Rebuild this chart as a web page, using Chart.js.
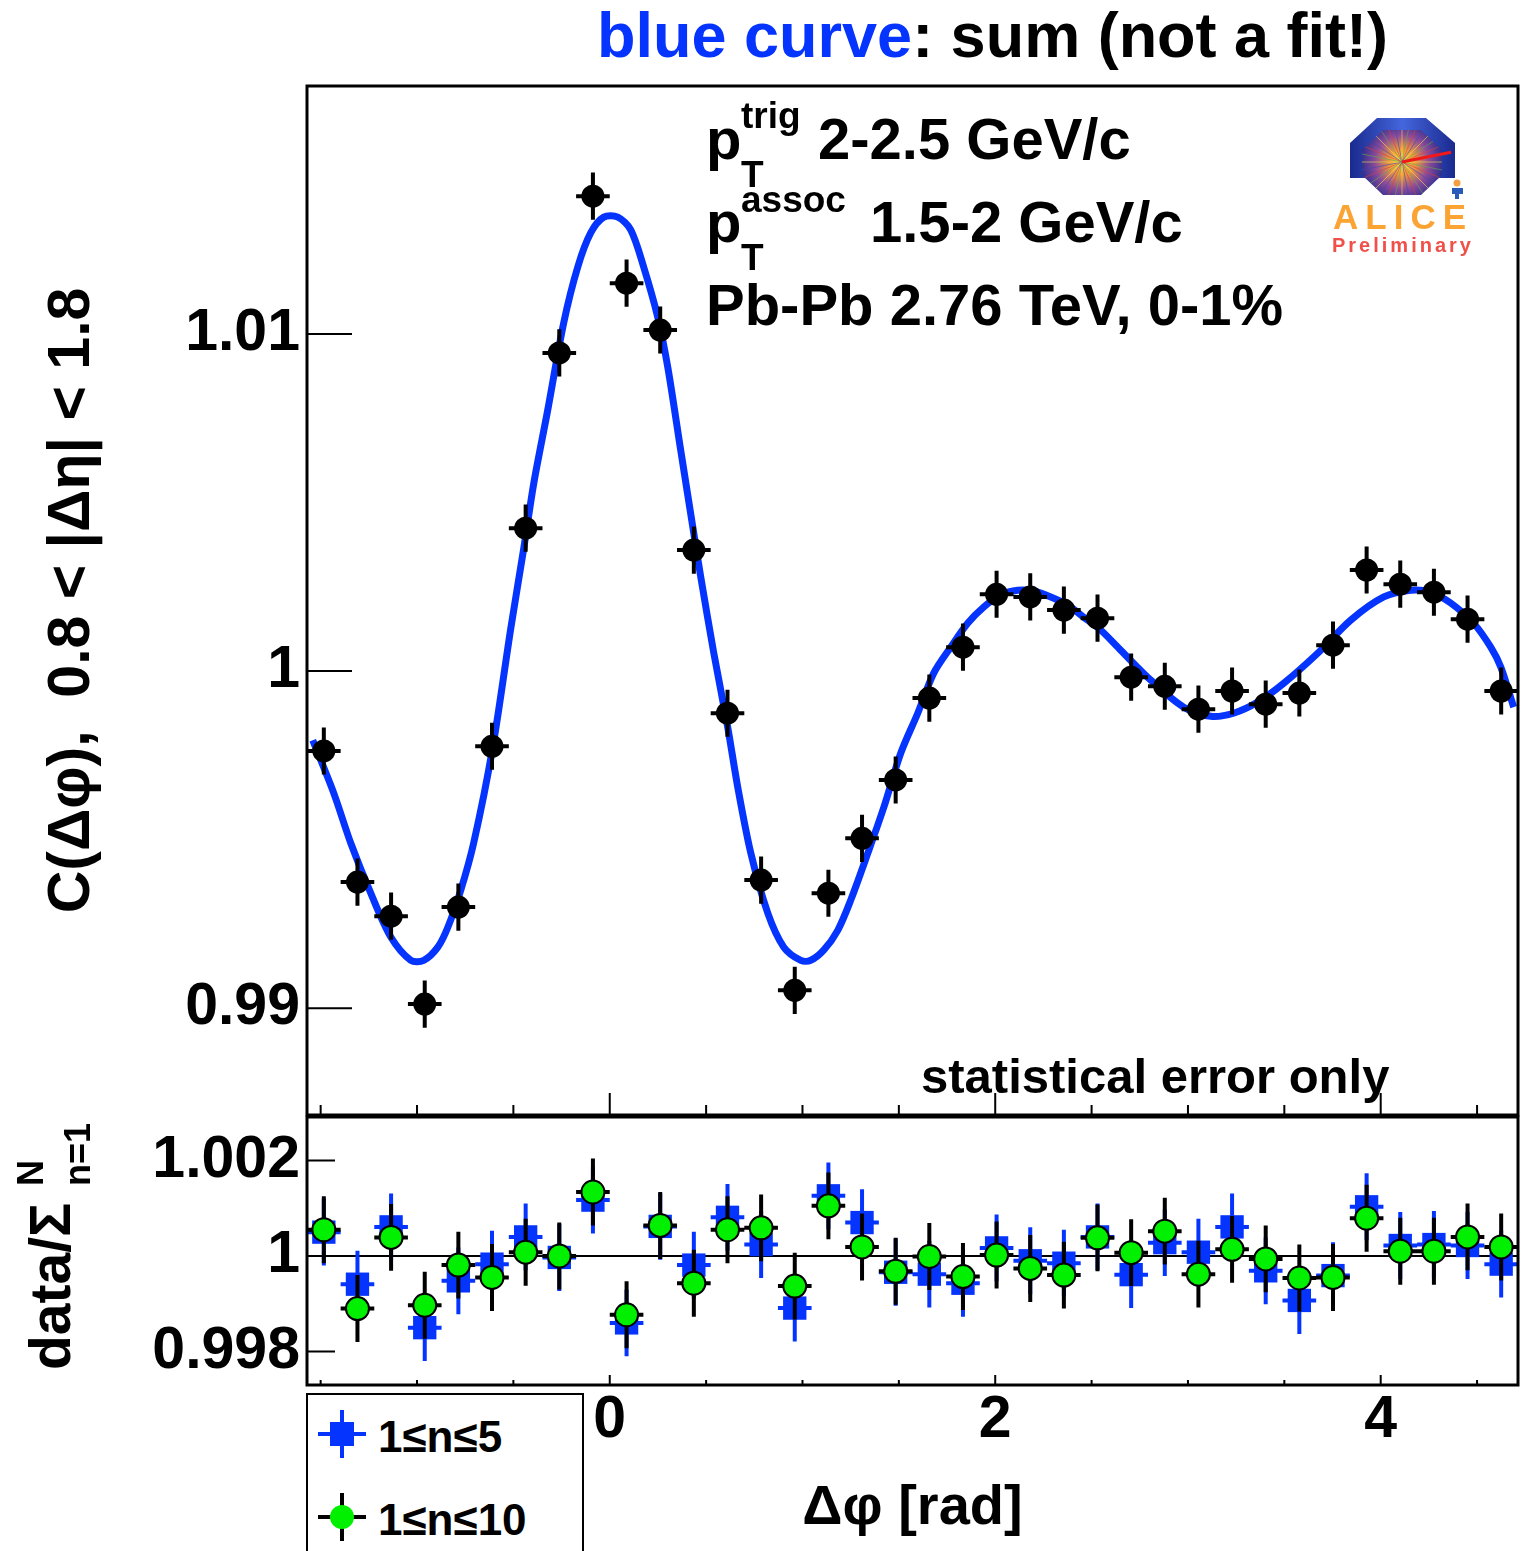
<!DOCTYPE html>
<html>
<head>
<meta charset="utf-8">
<title>C(dphi) Pb-Pb 2.76 TeV</title>
<script src="https://cdn.jsdelivr.net/npm/chart.js@4.4.1/dist/chart.umd.min.js"></script>
<style>
  html, body { margin: 0; padding: 0; background: #fff; }
  body { width: 1521px; height: 1551px; position: relative; overflow: hidden; }
  canvas { position: absolute; left: 0; }
  #topChart { top: 0; }
  #botChart { top: 1100px; }
  .txt { position: absolute; font-family: "Liberation Sans", Arial, sans-serif; font-weight: bold;
         line-height: 1; white-space: nowrap; color: #000; }
</style>
</head>
<body>
<canvas id="topChart" width="1521" height="1118"></canvas>
<canvas id="botChart" width="1521" height="451"></canvas>

<script>
/* === DATA === */
// bin centres in delta phi (36 bins, -pi/2 .. 3pi/2)
const binPhi = [-1.4835, -1.3090, -1.1345, -0.9599, -0.7854, -0.6109, -0.4363, -0.2618, -0.0873,
  0.0873, 0.2618, 0.4363, 0.6109, 0.7854, 0.9599, 1.1345, 1.3090, 1.4835,
  1.6581, 1.8326, 2.0071, 2.1817, 2.3562, 2.5307, 2.7053, 2.8798, 3.0543,
  3.2289, 3.4034, 3.5779, 3.7525, 3.9270, 4.1015, 4.2761, 4.4506, 4.6251];

// C(dphi) data points (black)
const corrVal = [0.99763, 0.99374, 0.99273, 0.99012, 0.99300, 0.99777, 1.00424, 1.00944, 1.01409,
  1.01151, 1.01012, 1.00359, 0.99875, 0.99380, 0.99053, 0.99341, 0.99504, 0.99677,
  0.99920, 1.00071, 1.00228, 1.00220, 1.00181, 1.00157, 0.99982, 0.99955, 0.99887,
  0.99941, 0.99902, 0.99935, 1.00077, 1.00300, 1.00258, 1.00234, 1.00154, 0.99941];
const corrErr = [0.0007, 0.0007, 0.0007, 0.0007, 0.0007, 0.0007, 0.0007, 0.0007, 0.0007,
  0.0007, 0.0007, 0.0007, 0.0007, 0.0007, 0.0007, 0.0007, 0.0007, 0.0007,
  0.0007, 0.0007, 0.0007, 0.0007, 0.0007, 0.0007, 0.0007, 0.0007, 0.0007,
  0.0007, 0.0007, 0.0007, 0.0007, 0.0007, 0.0007, 0.0007, 0.0007, 0.0007];

// blue curve (harmonic sum)
const curvePhi = [-1.541, -1.432, -1.344, -1.240, -1.136, -1.032, -0.965, -0.892, -0.840, -0.773,
  -0.706, -0.607, -0.514, -0.446, -0.394, -0.322, -0.239, -0.166, -0.099, -0.031,
  0.042, 0.109, 0.176, 0.249, 0.301, 0.368, 0.436, 0.472, 0.540, 0.612,
  0.664, 0.732, 0.820, 0.903, 0.991, 1.043, 1.110, 1.183, 1.250, 1.339,
  1.422, 1.510, 1.598, 1.681, 1.769, 1.857, 1.940, 2.029, 2.117, 2.200,
  2.288, 2.376, 2.459, 2.547, 2.651, 2.807, 2.978, 3.118, 3.237, 3.362,
  3.497, 3.673, 3.844, 4.016, 4.156, 4.259, 4.363, 4.482, 4.571, 4.623, 4.690];
const curveVal = [0.99795, 0.99638, 0.99490, 0.99341, 0.99211, 0.99142, 0.99142, 0.99181, 0.99240, 0.99350,
  0.99490, 0.99774, 1.00125, 1.00365, 1.00558, 1.00774, 1.01033, 1.01199, 1.01300, 1.01347,
  1.01347, 1.01309, 1.01199, 1.01050, 1.00902, 1.00656, 1.00409, 1.00280, 1.00053, 0.99834,
  0.99656, 0.99460, 0.99282, 0.99181, 0.99142, 0.99142, 0.99172, 0.99231, 0.99320, 0.99460,
  0.99596, 0.99757, 0.99875, 0.99994, 1.00071, 1.00142, 1.00190, 1.00226, 1.00240, 1.00237,
  1.00220, 1.00196, 1.00160, 1.00122, 1.00062, 0.99973, 0.99893, 0.99866, 0.99875, 0.99908,
  0.99964, 1.00053, 1.00151, 1.00220, 1.00240, 1.00234, 1.00202, 1.00142, 1.00071, 1.00012, 0.99893];

// ratio data / sum, 1<=n<=5 (blue squares) and 1<=n<=10 (green circles)
const ratio5 = [1.00050, 0.99941, 1.00061, 0.99850, 0.99948, 0.99983, 1.00040, 0.99997, 1.00117,
  0.99860, 1.00062, 0.99981, 1.00081, 1.00024, 0.99891, 1.00126, 1.00070, 0.99966,
  0.99962, 0.99943, 1.00017, 0.99990, 0.99985, 1.00040, 0.99961, 1.00028, 1.00008,
  1.00061, 0.99969, 0.99907, 0.99959, 1.00103, 1.00022, 1.00024, 1.00022, 0.99983];
const ratio10 = [1.00055, 0.99890, 1.00039, 0.99897, 0.99981, 0.99955, 1.00008, 1.00000, 1.00134,
  0.99877, 1.00064, 0.99943, 1.00055, 1.00059, 0.99937, 1.00105, 1.00019, 0.99968,
  0.99999, 0.99957, 1.00002, 0.99974, 0.99960, 1.00038, 1.00007, 1.00052, 0.99962,
  1.00014, 0.99994, 0.99954, 0.99955, 1.00079, 1.00010, 1.00010, 1.00040, 1.00019];
const ratioErr5 = [0.0007, 0.0007, 0.0007, 0.0007, 0.0007, 0.0007, 0.0007, 0.0007, 0.0007,
  0.0007, 0.0007, 0.0007, 0.0007, 0.0007, 0.0007, 0.0007, 0.0007, 0.0007,
  0.0007, 0.0007, 0.0007, 0.0007, 0.0007, 0.0007, 0.0007, 0.0007, 0.0007,
  0.0007, 0.0007, 0.0007, 0.0007, 0.0007, 0.0007, 0.0007, 0.0007, 0.0007];
const ratioErr10 = [0.0007, 0.0007, 0.0007, 0.0007, 0.0007, 0.0007, 0.0007, 0.0007, 0.0007,
  0.0007, 0.0007, 0.0007, 0.0007, 0.0007, 0.0007, 0.0007, 0.0007, 0.0007,
  0.0007, 0.0007, 0.0007, 0.0007, 0.0007, 0.0007, 0.0007, 0.0007, 0.0007,
  0.0007, 0.0007, 0.0007, 0.0007, 0.0007, 0.0007, 0.0007, 0.0007, 0.0007];

// axes
const topYTicks = [0.99, 1, 1.01];
const topYLabels = ["0.99", "1", "1.01"];
const botYTicks = [0.998, 1, 1.002];
const botYLabels = ["0.998", "1", "1.002"];
const xTickVals = [0, 2, 4];
const xTickLabels = ["0", "2", "4"];
const xAllTicks = [-1.5, -1, -0.5, 0, 0.5, 1, 1.5, 2, 2.5, 3, 3.5, 4, 4.5];

const X_MIN = -Math.PI / 2, X_MAX = 1.5 * Math.PI;
const BIN_HALF = Math.PI / 36;
const BLUE = "#0534ff";
const GREEN = "#00f000";
const FONT = '"Liberation Sans", Arial, sans-serif';

/* === PLUGINS === */
// error bars, drawn just before their dataset so markers sit on top
const errorBars = {
  id: "errorBars",
  beforeDatasetDraw(chart, args) {
    const ds = chart.data.datasets[args.index];
    if (!ds.errY) return;
    const { ctx, scales: { x, y } } = chart;
    ctx.save();
    ctx.strokeStyle = ds.errColor;
    ctx.lineWidth = ds.errWidth;
    ctx.beginPath();
    ds.data.forEach((p, i) => {
      const px = x.getPixelForValue(p.x);
      const py = y.getPixelForValue(p.y);
      ctx.moveTo(px, y.getPixelForValue(p.y - ds.errY[i]));
      ctx.lineTo(px, y.getPixelForValue(p.y + ds.errY[i]));
      ctx.moveTo(x.getPixelForValue(p.x - BIN_HALF), py);
      ctx.lineTo(x.getPixelForValue(p.x + BIN_HALF), py);
    });
    ctx.stroke();
    ctx.restore();
  }
};

// frame + inward ticks (ROOT style)
const frameTicks = {
  id: "frameTicks",
  afterDatasetsDraw(chart, args, opts) {
    const { ctx, chartArea: a, scales: { x, y } } = chart;
    ctx.save();
    ctx.strokeStyle = "#000";
    ctx.lineWidth = 2;
    ctx.beginPath();
    opts.yTicks.forEach(v => {
      const py = y.getPixelForValue(v);
      ctx.moveTo(a.left, py);
      ctx.lineTo(a.left + opts.yLen, py);
    });
    opts.xTicks.forEach(v => {
      const px = x.getPixelForValue(v);
      const len = opts.xMajor.includes(v) ? opts.majorLen : opts.minorLen;
      ctx.moveTo(px, a.bottom);
      ctx.lineTo(px, a.bottom - len);
    });
    ctx.stroke();
    ctx.lineWidth = 3;
    ctx.strokeRect(a.left, a.top, a.right - a.left, a.bottom - a.top);
    ctx.restore();
  }
};

// ALICE preliminary logo (decoration only)
const aliceLogo = {
  id: "aliceLogo",
  afterDraw(chart) {
    const ctx = chart.ctx;
    ctx.save();
    // outer blue hood
    const g = ctx.createLinearGradient(1350, 118, 1455, 118);
    g.addColorStop(0, "#1a2a8e");
    g.addColorStop(0.5, "#4466dd");
    g.addColorStop(1, "#1a2a8e");
    ctx.fillStyle = g;
    ctx.beginPath();
    ctx.moveTo(1377, 118); ctx.lineTo(1426, 118); ctx.lineTo(1455, 143);
    ctx.lineTo(1455, 178); ctx.lineTo(1350, 178); ctx.lineTo(1350, 143);
    ctx.closePath();
    ctx.fill();
    // inner octagon
    ctx.beginPath();
    ctx.moveTo(1383, 130); ctx.lineTo(1421, 130); ctx.lineTo(1442, 150); ctx.lineTo(1442, 175);
    ctx.lineTo(1421, 195); ctx.lineTo(1383, 195); ctx.lineTo(1362, 175); ctx.lineTo(1362, 150);
    ctx.closePath();
    const r = ctx.createRadialGradient(1402, 162, 0, 1402, 162, 42);
    r.addColorStop(0, "#ffd84a");
    r.addColorStop(0.3, "#f29a3c");
    r.addColorStop(0.65, "#8a4a9a");
    r.addColorStop(1, "#2a2e8e");
    ctx.fillStyle = r;
    ctx.fill();
    ctx.save();
    ctx.clip();
    const rayCols = ["#e8e04a", "#5ab04a", "#d8403a", "#3a4ab0"];
    ctx.lineWidth = 1;
    for (let k = 0; k < 32; k++) {
      const ang = k * Math.PI / 16;
      ctx.strokeStyle = rayCols[k % 4];
      ctx.globalAlpha = 0.6;
      ctx.beginPath();
      ctx.moveTo(1402, 162);
      ctx.lineTo(1402 + 50 * Math.cos(ang), 162 + 50 * Math.sin(ang));
      ctx.stroke();
    }
    ctx.restore();
    ctx.strokeStyle = "#f01818";
    ctx.lineWidth = 3;
    ctx.stroke();
    // little figure
    ctx.fillStyle = "#f4a040";
    ctx.beginPath(); ctx.arc(1457, 183, 3.5, 0, 2 * Math.PI); ctx.fill();
    ctx.fillStyle = "#2a5ab8";
    ctx.fillRect(1452, 188, 11, 6);
    ctx.fillRect(1455, 194, 4, 5);
    ctx.restore();
  }
};

/* === CHARTS === */
const baseOpts = {
  responsive: false,
  animation: false,
  devicePixelRatio: 1,
  events: []
};

const tickFont = { family: FONT, size: 59, weight: "bold" };

// keep the chart area where the padding says, labels may overhang
function fixedWidth(w) {
  return s => { s.width = w; s.paddingTop = 0; s.paddingBottom = 0; };
}
function fixedHeight(h) {
  return s => { s.height = h; s.paddingLeft = 0; s.paddingRight = 0; };
}

new Chart(document.getElementById("topChart"), {
  type: "line",
  data: {
    datasets: [
      {
        data: curvePhi.map((x, i) => ({ x, y: curveVal[i] })),
        borderColor: BLUE, borderWidth: 7, pointRadius: 0, tension: 0.3, fill: false, order: 2
      },
      {
        data: binPhi.map((x, i) => ({ x, y: corrVal[i] })),
        showLine: false, pointRadius: 11.5, pointBackgroundColor: "#000",
        pointBorderColor: "#000", pointBorderWidth: 0, order: 1,
        errY: corrErr, errColor: "#000", errWidth: 4
      }
    ]
  },
  options: {
    ...baseOpts,
    layout: { autoPadding: false, padding: { top: 86, right: 3, bottom: 3, left: 0 } },
    scales: {
      x: { type: "linear", min: X_MIN, max: X_MAX, display: false },
      y: {
        type: "linear", min: 0.98683, max: 1.01736,
        afterFit: fixedWidth(307),
        afterBuildTicks: s => { s.ticks = topYTicks.map(v => ({ value: v })); },
        ticks: { callback: (v, i) => topYLabels[i], font: tickFont, color: "#000", padding: 7 },
        grid: { display: false, drawTicks: false },
        border: { display: false },
        title: {
          display: true, text: "C(Δφ),  0.8 < |Δη| < 1.8", color: "#000",
          font: { family: FONT, size: 59, weight: "bold" }, padding: { top: 37, bottom: 0 }
        }
      }
    },
    plugins: {
      legend: { display: false },
      tooltip: { enabled: false },
      frameTicks: { yTicks: topYTicks, yLen: 45, xTicks: xAllTicks, xMajor: xTickVals, majorLen: 22, minorLen: 10 }
    }
  },
  plugins: [errorBars, frameTicks, aliceLogo]
});

new Chart(document.getElementById("botChart"), {
  type: "line",
  data: {
    datasets: [
      {
        data: [{ x: X_MIN, y: 1 }, { x: X_MAX, y: 1 }],
        borderColor: "#000", borderWidth: 2, pointRadius: 0, fill: false, order: 3
      },
      {
        data: binPhi.map((x, i) => ({ x, y: ratio5[i] })),
        showLine: false, pointStyle: "rect", pointRadius: 16.5, pointBackgroundColor: BLUE,
        pointBorderColor: BLUE, pointBorderWidth: 0, order: 2,
        errY: ratioErr5, errColor: BLUE, errWidth: 4
      },
      {
        data: binPhi.map((x, i) => ({ x, y: ratio10[i] })),
        showLine: false, pointStyle: "circle", pointRadius: 11.5, pointBackgroundColor: GREEN,
        pointBorderColor: "#000", pointBorderWidth: 2, order: 1,
        errY: ratioErr10, errColor: "#000", errWidth: 4
      }
    ]
  },
  options: {
    ...baseOpts,
    layout: { autoPadding: false, padding: { top: 17, right: 3, bottom: 0, left: 0 } },
    scales: {
      x: {
        type: "linear", min: X_MIN, max: X_MAX,
        afterFit: fixedHeight(166),
        afterBuildTicks: s => { s.ticks = xTickVals.map(v => ({ value: v })); },
        ticks: { callback: (v, i) => xTickLabels[i], font: tickFont, color: "#000", padding: 0,
                 autoSkip: false, maxRotation: 0 },
        grid: { display: false, drawTicks: false },
        border: { display: false },
        title: {
          display: true, text: "Δφ [rad]", color: "#000",
          font: { family: FONT, size: 56, weight: "bold" }, padding: { top: 0, bottom: 9 }
        }
      },
      y: {
        type: "linear", min: 0.9973, max: 1.00291,
        afterFit: fixedWidth(307),
        afterBuildTicks: s => { s.ticks = botYTicks.map(v => ({ value: v })); },
        ticks: { callback: (v, i) => botYLabels[i], font: tickFont, color: "#000", padding: 7 },
        grid: { display: false, drawTicks: false },
        border: { display: false }
      }
    },
    plugins: {
      legend: { display: false },
      tooltip: { enabled: false },
      frameTicks: { yTicks: botYTicks, yLen: 28, xTicks: xAllTicks, xMajor: xTickVals, majorLen: 10, minorLen: 5 }
    }
  },
  plugins: [errorBars, frameTicks]
});

/* === TEXT OVERLAYS === */
function addText(str, left, baseline, size, color, parent) {
  const el = document.createElement("div");
  el.className = "txt";
  el.textContent = str;
  el.style.left = left + "px";
  el.style.top = (baseline - 0.8465 * size) + "px";
  el.style.fontSize = size + "px";
  if (color) el.style.color = color;
  (parent || document.body).appendChild(el);
  return el;
}

const title = addText("", 597, 57, 63);
title.innerHTML = '<span style="color:' + BLUE + '">blue curve</span>: sum (not a fit!)';

addText("p", 706, 159, 58);
addText("trig", 741, 128, 37);
addText("T", 741, 187, 37);
addText("2-2.5 GeV/c", 818, 159, 58);
addText("p", 706, 242, 58);
addText("assoc", 741, 212, 37);
addText("T", 741, 270, 37);
addText("1.5-2 GeV/c", 870, 242, 58);
addText("Pb-Pb 2.76 TeV, 0-1%", 706, 325, 58);
addText("statistical error only", 921, 1093, 49);

const alice = addText("ALICE", 1333, 229, 35, "#fba433");
alice.style.letterSpacing = "7px";
const prelim = addText("Preliminary", 1332, 252, 20, "#f0504a");
prelim.style.letterSpacing = "3px";

// ratio y title, rotated
const yt = document.createElement("div");
yt.style.cssText = "position:absolute;left:0;top:0;width:0;height:0;transform-origin:0 0;" +
  "transform:translate(70px,1370px) rotate(-90deg)";
document.body.appendChild(yt);
addText("data/Σ", 0, 0, 57, null, yt);
addText("N", 184, -27, 36, null, yt);
addText("n=1", 184, 20, 36, null, yt);

// legend box
const leg = document.createElement("div");
leg.style.cssText = "position:absolute;left:306px;top:1393px;width:274px;height:170px;border:2px solid #000;background:#fff";
document.body.appendChild(leg);

function box(left, top, w, h, css) {
  const d = document.createElement("div");
  d.style.cssText = "position:absolute;left:" + left + "px;top:" + top + "px;width:" + w + "px;height:" + h + "px;" + css;
  document.body.appendChild(d);
  return d;
}
// blue entry
box(318, 1432, 48, 4, "background:" + BLUE);
box(340, 1410, 4, 48, "background:" + BLUE);
box(330, 1422, 24, 24, "background:" + BLUE);
addText("1≤n≤5", 378, 1452, 44);
// green entry
box(318, 1515, 48, 4, "background:#000");
box(340, 1493, 4, 48, "background:#000");
box(330, 1505, 24, 24, "background:" + GREEN + ";border-radius:50%;box-sizing:border-box");
addText("1≤n≤10", 378, 1535, 44);
</script>
</body>
</html>
